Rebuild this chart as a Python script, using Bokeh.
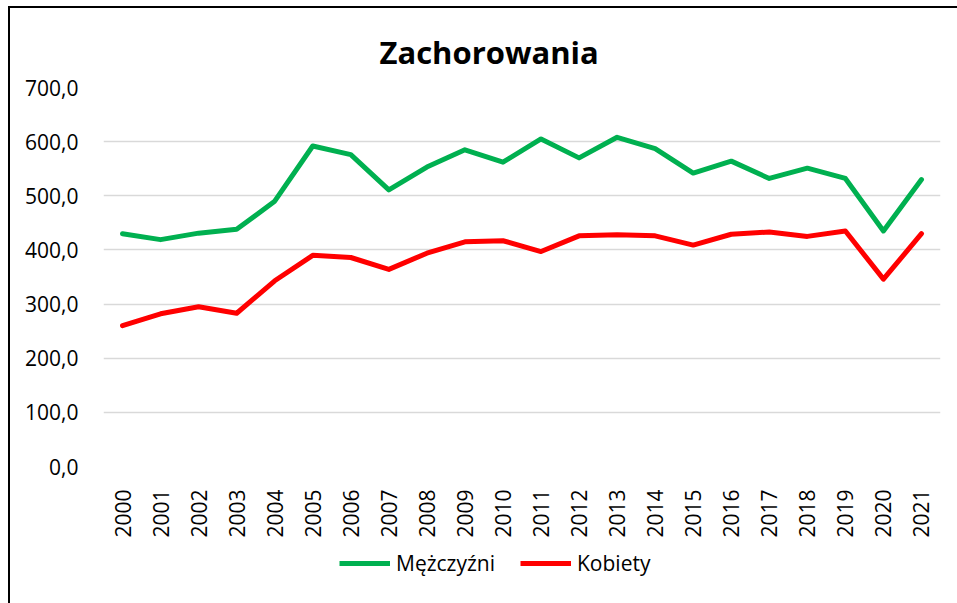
import math
from bokeh.plotting import figure
from bokeh.layouts import column
from bokeh.models import (Range1d, FixedTicker, CustomJSTickFormatter, Legend,
                          LegendItem)
from bokeh.embed import file_html
from bokeh.resources import INLINE

years = [str(y) for y in range(2000, 2022)]
men = [430, 419, 431, 438, 490, 592, 576, 511, 553, 585, 562, 605,
       570, 608, 587, 542, 564, 532, 551, 532, 435, 530]
women = [260, 282, 295, 283, 343, 390, 386, 364, 394, 415, 417, 397,
         426, 428, 426, 409, 429, 433, 425, 435, 346, 430]
y_ticks = [0, 100, 200, 300, 400, 500, 600, 700]
title_text = "Zachorowania"
label_men = "Mężczyźni"
label_women = "Kobiety"
colors = ["#00B050", "#FF0000"]

FONT = "Open Sans"

# ---- main chart ----
p = figure(x_range=years, y_range=Range1d(0, 700), width=947, height=532,
           output_backend="svg", toolbar_location=None,
           min_border_left=93, min_border_right=17, min_border_top=79,
           min_border_bottom=73)
p.outline_line_color = None
p.background_fill_color = "white"
p.border_fill_color = "white"

p.title.text = title_text
p.title.align = "left"
p.title.offset = 276
p.title.standoff = 30
p.title.text_font = FONT
p.title.text_font_style = "bold"
p.title.text_font_size = "31px"
p.title.text_color = "#000000"

p.line(years, men, line_color=colors[0], line_width=5,
       line_join="round", line_cap="round")
p.line(years, women, line_color=colors[1], line_width=5,
       line_join="round", line_cap="round")

p.xgrid.grid_line_color = None
p.ygrid.grid_line_color = "#D9D9D9"
p.ygrid.grid_line_width = 1.5
p.yaxis.ticker = FixedTicker(ticks=y_ticks)
p.yaxis.formatter = CustomJSTickFormatter(code="return tick.toFixed(1).replace('.', ',')")
for ax in (p.xaxis[0], p.yaxis[0]):
    ax.axis_line_color = None
    ax.major_tick_line_color = None
    ax.minor_tick_line_color = None
    ax.major_label_text_font = FONT
    ax.major_label_text_font_size = "21px"
    ax.major_label_text_color = "#000000"
p.yaxis.major_label_standoff = 19
p.xaxis.major_label_standoff = 17
p.xaxis.major_label_orientation = math.pi / 2

# ---- legend strip (same series, drawn outside its visible range) ----
q = figure(x_range=years, y_range=Range1d(-1, 0), width=947, height=63,
           output_backend="svg", toolbar_location=None,
           min_border_left=0, min_border_right=0, min_border_top=0,
           min_border_bottom=0)
q.axis.visible = False
q.grid.grid_line_color = None
q.outline_line_color = None
q.background_fill_color = "white"
q.border_fill_color = "white"
l_men = q.line(years, men, line_color=colors[0], line_width=5)
l_women = q.line(years, women, line_color=colors[1], line_width=5)

legend = Legend(items=[LegendItem(label=label_men, renderers=[l_men]),
                       LegendItem(label=label_women, renderers=[l_women])],
                orientation="horizontal", location=(236, 26),
                glyph_width=51, glyph_height=20, label_standoff=6,
                spacing=25, padding=0, margin=0,
                border_line_color=None, background_fill_alpha=0,
                label_text_font=FONT, label_text_font_size="21px",
                label_text_color="#000000")
q.add_layout(legend, "center")

layout = column(p, q, spacing=0)
layout.styles = {"margin-left": "8px", "margin-top": "6px",
                 "border-left": "2px solid black", "border-top": "2px solid black"}

open("out.html", "w").write(file_html(layout, INLINE))
